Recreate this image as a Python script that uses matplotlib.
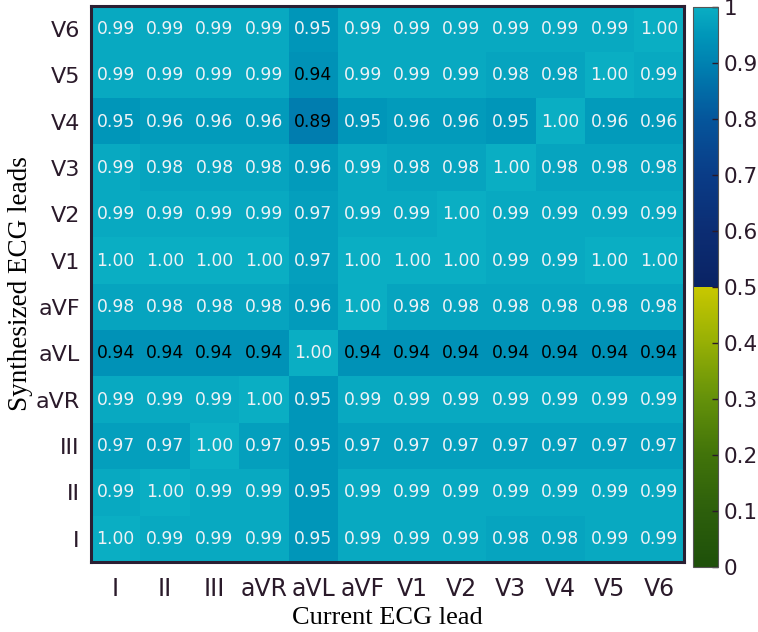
import numpy as np
import matplotlib
matplotlib.use('Agg')
import matplotlib.pyplot as plt
from matplotlib.colors import LinearSegmentedColormap

# leads, columns = current lead, rows = synthesized lead (row 0 = I)
leads = ['I', 'II', 'III', 'aVR', 'aVL', 'aVF', 'V1', 'V2', 'V3', 'V4', 'V5', 'V6']

row_I   = [1.00, 0.99, 0.99, 0.99, 0.95, 0.99, 0.99, 0.99, 0.98, 0.98, 0.99, 0.99]
row_II  = [0.99, 1.00, 0.99, 0.99, 0.95, 0.99, 0.99, 0.99, 0.99, 0.99, 0.99, 0.99]
row_III = [0.97, 0.97, 1.00, 0.97, 0.95, 0.97, 0.97, 0.97, 0.97, 0.97, 0.97, 0.97]
row_aVR = [0.99, 0.99, 0.99, 1.00, 0.95, 0.99, 0.99, 0.99, 0.99, 0.99, 0.99, 0.99]
row_aVL = [0.94, 0.94, 0.94, 0.94, 1.00, 0.94, 0.94, 0.94, 0.94, 0.94, 0.94, 0.94]
row_aVF = [0.98, 0.98, 0.98, 0.98, 0.96, 1.00, 0.98, 0.98, 0.98, 0.98, 0.98, 0.98]
row_V1  = [1.00, 1.00, 1.00, 1.00, 0.97, 1.00, 1.00, 1.00, 0.99, 0.99, 1.00, 1.00]
row_V2  = [0.99, 0.99, 0.99, 0.99, 0.97, 0.99, 0.99, 1.00, 0.99, 0.99, 0.99, 0.99]
row_V3  = [0.99, 0.98, 0.98, 0.98, 0.96, 0.99, 0.98, 0.98, 1.00, 0.98, 0.98, 0.98]
row_V4  = [0.95, 0.96, 0.96, 0.96, 0.89, 0.95, 0.96, 0.96, 0.95, 1.00, 0.96, 0.96]
row_V5  = [0.99, 0.99, 0.99, 0.99, 0.94, 0.99, 0.99, 0.99, 0.98, 0.98, 1.00, 0.99]
row_V6  = [0.99, 0.99, 0.99, 0.99, 0.95, 0.99, 0.99, 0.99, 0.99, 0.99, 0.99, 1.00]

M = np.array([row_I, row_II, row_III, row_aVR, row_aVL, row_aVF,
              row_V1, row_V2, row_V3, row_V4, row_V5, row_V6])

#%% colormap : green->yellow under 0.5, navy->teal above
def c(r, g, b):
    return (r/255., g/255., b/255.)

nodes = [(0.0, c(30, 80, 10)), (0.1, c(45, 95, 12)), (0.2, c(65, 115, 10)),
         (0.3, c(100, 145, 10)), (0.4, c(150, 175, 5)), (0.4999, c(200, 200, 0)),
         (0.5, c(10, 35, 100)), (0.6, c(12, 45, 115)), (0.7, c(10, 60, 135)),
         (0.8, c(5, 85, 155)), (0.89, c(0, 125, 175)), (0.95, c(0, 150, 185)),
         (1.0, c(10, 174, 195))]
cmap = LinearSegmentedColormap.from_list('ecg', nodes, N=512)

txtcol = '#2a1a2a'

fig = plt.figure(figsize=(7.58, 6.32), dpi=100)
ax = fig.add_axes([0.120, 0.1108, 0.782, 0.880])
im = ax.imshow(M, cmap=cmap, vmin=0, vmax=1, origin='lower', aspect='auto',
               interpolation='nearest')

for i in range(M.shape[0]):
    for j in range(M.shape[1]):
        v = M[i, j]
        col = 'black' if v < 0.945 else '#eef2f6'
        ax.text(j, i, '%.2f' % v, ha='center', va='center', color=col,
                fontsize=12.3, family='DejaVu Sans')

ax.set_xticks(range(len(leads)))
ax.set_yticks(range(len(leads)))
ax.set_xticklabels(leads, fontsize=17, color=txtcol, family='DejaVu Sans')
ax.set_yticklabels(leads, fontsize=16, color=txtcol, family='DejaVu Sans')
ax.tick_params(length=0, pad=8)
ax.tick_params(axis='x', pad=11)
for s in ax.spines.values():
    s.set_linewidth(2.2)
    s.set_color('#2a1f33')

ax.set_xlabel('Current ECG lead', family='Liberation Serif', fontsize=19,
              color='black', labelpad=4)
ax.set_ylabel('Synthesized ECG leads', family='Liberation Serif', fontsize=19.5,
              color='black', labelpad=2)

# colorbar
cax = fig.add_axes([0.914, 0.1028, 0.033, 0.886])
cb = fig.colorbar(im, cax=cax, ticks=np.arange(0, 1.01, 0.1))
cb.ax.set_yticklabels(['0', '0.1', '0.2', '0.3', '0.4', '0.5', '0.6', '0.7',
                       '0.8', '0.9', '1'])
cb.ax.tick_params(direction='in', length=4, width=1, color=txtcol,
                  labelsize=15.5, labelcolor=txtcol, pad=4)
for l in cb.ax.get_yticklabels():
    l.set_family('DejaVu Sans')
cb.outline.set_linewidth(0.8)
cb.outline.set_edgecolor('#555555')

plt.savefig('out.png', dpi=100)
plt.close(fig)
